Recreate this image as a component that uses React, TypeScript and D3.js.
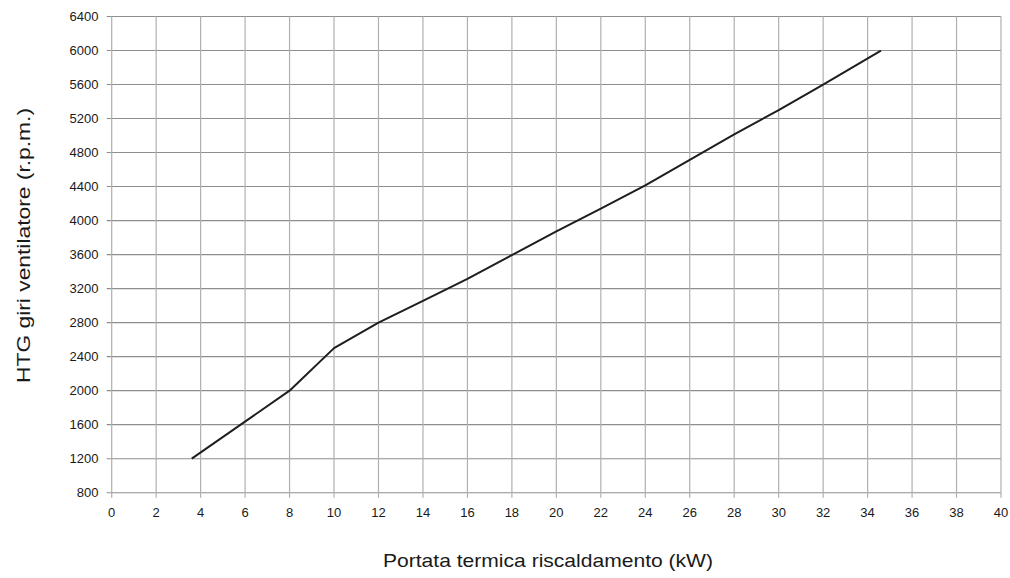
import React from "react";
import * as d3 from "d3";

const kw: number[] = [3.6, 8, 10, 12, 14, 16, 20, 22, 24, 28, 30, 32, 34.6];
const rpm: number[] = [1200, 2000, 2500, 2800, 3057, 3314, 3874, 4141, 4415, 5015, 5298, 5600, 6000];
const xTicks: number[] = d3.range(0, 41, 2);
const yTicks: number[] = d3.range(800, 6401, 400);
const xTitle = "Portata termica riscaldamento (kW)";
const yTitle = "HTG giri ventilatore (r.p.m.)";

export default function App() {
  const W = 1010, H = 578;
  const x = d3.scaleLinear().domain([0, 40]).range([111.7, 1001]);
  const y = d3.scaleLinear().domain([800, 6400]).range([492.7, 16.5]);
  const line = d3.line<number>().x((_, i) => x(kw[i])).y((d) => y(d));
  const font = "'Liberation Sans', Arial, sans-serif";
  return (
    <svg width={W} height={H} style={{ position: "absolute", left: 0, top: 0, background: "#fff" }}>
      <g>
        {yTicks.map((t) => (
          <line key={"h" + t} x1={x(0) - 5} x2={x(40)} y1={y(t)} y2={y(t)} stroke="#8e8e8e" strokeWidth={1.1} />
        ))}
        {xTicks.map((t) => (
          <line key={"v" + t} x1={x(t)} x2={x(t)} y1={y(6400)} y2={y(800) + 5} stroke="#b0b0b0" strokeWidth={1.2} />
        ))}
      </g>
      <path d={line(rpm) || ""} fill="none" stroke="#1e1e1e" strokeWidth={2} strokeLinejoin="round" />
      <g fontFamily={font} fontSize={13} fill="#1a1a1a">
        {yTicks.map((t) => (
          <text key={"yl" + t} x={98.5} y={y(t)} dy="0.35em" textAnchor="end">{t}</text>
        ))}
        {xTicks.map((t) => (
          <text key={"xl" + t} x={x(t)} y={517} textAnchor="middle">{t}</text>
        ))}
      </g>
      <text x={548} y={566.5} textAnchor="middle" textLength={330} lengthAdjust="spacingAndGlyphs" fontFamily={font} fontSize={18.5} fill="#1a1a1a">{xTitle}</text>
      <text transform={`translate(30, 245.5) rotate(-90)`} textAnchor="middle" textLength={275} lengthAdjust="spacingAndGlyphs" fontFamily={font} fontSize={18.5} fill="#1a1a1a">{yTitle}</text>
    </svg>
  );
}
